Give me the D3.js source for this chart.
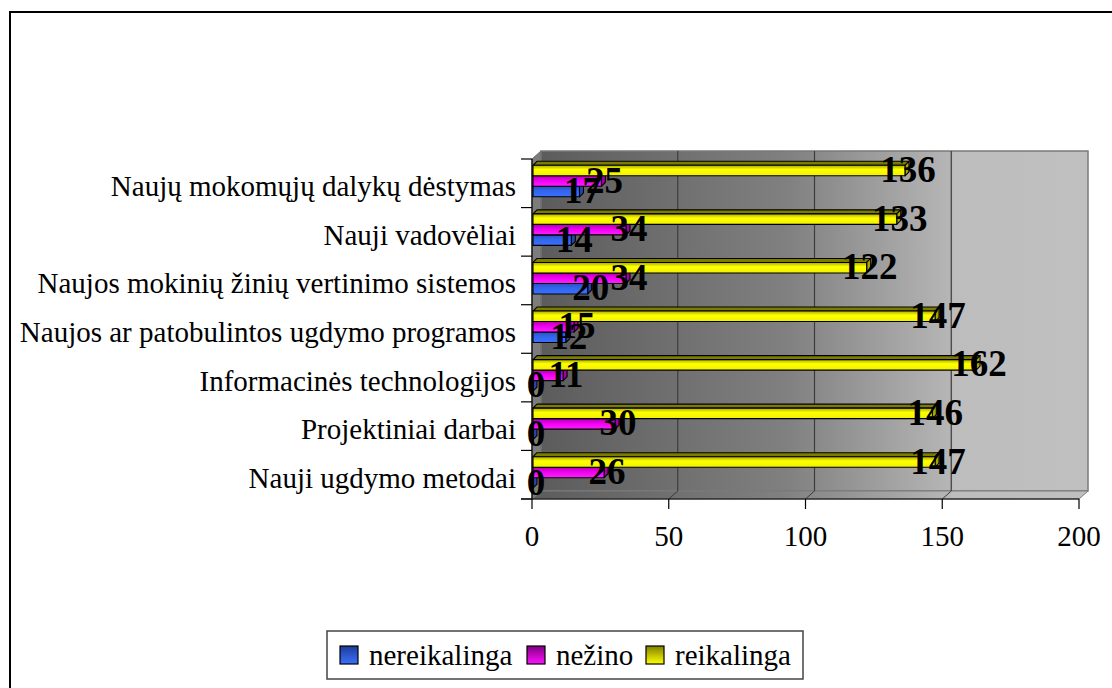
<!DOCTYPE html>
<html>
<head>
<meta charset="utf-8">
<style>
body { margin: 0; background: #fff; font-family: "Liberation Serif", "Times New Roman", serif; }
</style>
</head>
<body>
<script src="https://d3js.org/d3.v7.min.js"></script>
<script>
// categories from the bottom of the chart to the top
var categories = [
  "Nauji ugdymo metodai",
  "Projektiniai darbai",
  "Informacinės technologijos",
  "Naujos ar patobulintos ugdymo programos",
  "Naujos mokinių žinių vertinimo sistemos",
  "Nauji vadovėliai",
  "Naujų mokomųjų dalykų dėstymas"
];
var nereikalinga = [0, 0, 0, 12, 20, 14, 17];
var nezino = [26, 30, 11, 15, 34, 34, 25];
var reikalinga = [147, 146, 162, 147, 122, 133, 136];
var seriesNames = ["nereikalinga", "nežino", "reikalinga"];
var xTicks = [0, 50, 100, 150, 200];

var width = 1112, height = 688;
var svg = d3.select("body").append("svg")
    .attr("width", width)
    .attr("height", height);

var defs = svg.append("defs");

function vGrad(id, stops) {
  var g = defs.append("linearGradient").attr("id", id)
      .attr("x1", 0).attr("y1", 0).attr("x2", 0).attr("y2", 1);
  stops.forEach(function(s) {
    g.append("stop").attr("offset", s[0]).attr("stop-color", s[1]);
  });
}

var wallGrad = defs.append("linearGradient").attr("id", "wall")
    .attr("x1", 0).attr("y1", 0).attr("x2", 1).attr("y2", 0);
[["0%", "#5c5c5c"], ["45%", "#808080"], ["75%", "#b6b6b6"], ["75.5%", "#bdbdbd"], ["100%", "#c0c0c0"]]
  .forEach(function(s) { wallGrad.append("stop").attr("offset", s[0]).attr("stop-color", s[1]); });

var series = [
  { name: seriesNames[0], values: nereikalinga, front: "g0", top: "#1c3a8c", cap: "#2446a8" },
  { name: seriesNames[1], values: nezino, front: "g1", top: "#800080", cap: "#a000a0" },
  { name: seriesNames[2], values: reikalinga, front: "g2", top: "#7c7c00", cap: "#a6a600" }
];
vGrad("g0", [["0%", "#2a4fc0"], ["45%", "#3366ee"], ["100%", "#3a70ff"]]);
vGrad("g1", [["0%", "#b000b0"], ["45%", "#f000f0"], ["100%", "#ff20ff"]]);
vGrad("g2", [["0%", "#a8a800"], ["40%", "#ffff00"], ["100%", "#f0f000"]]);

// outer chart frame (extends past the right and bottom edge)
svg.append("rect")
    .attr("x", 10).attr("y", 12)
    .attr("width", 1200).attr("height", 800)
    .attr("fill", "#fff").attr("stroke", "#000").attr("stroke-width", 2);

var x = d3.scaleLinear().domain([0, 200]).range([532, 1079]);
var y = d3.scaleBand().domain(categories.slice().reverse()).range([159, 499]);
var dx = 9, dy = -8;      // wall depth
var top0 = y.range()[0], bot0 = y.range()[1];

// back wall
svg.append("rect")
    .attr("x", x(0) + dx).attr("y", top0 + dy)
    .attr("width", x(200) - x(0)).attr("height", bot0 - top0)
    .attr("fill", "url(#wall)").attr("stroke", "#7a7a7a").attr("stroke-width", 1.5);

// left wall
svg.append("path")
    .attr("d", "M" + x(0) + "," + top0 + "L" + (x(0) + dx) + "," + (top0 + dy) +
      "L" + (x(0) + dx) + "," + (bot0 + dy) + "L" + x(0) + "," + bot0 + "Z")
    .attr("fill", "#7c7c7c").attr("stroke", "#6a6a6a");

// floor
svg.append("path")
    .attr("d", "M" + x(0) + "," + bot0 + "L" + (x(0) + dx) + "," + (bot0 + dy) +
      "L" + (x(200) + dx) + "," + (bot0 + dy) + "L" + x(200) + "," + bot0 + "Z")
    .attr("fill", "url(#wall)").attr("stroke", "#7a7a7a");

// gridlines on the wall and floor
xTicks.slice(1, 4).forEach(function(t) {
  svg.append("line")
      .attr("x1", x(t) + dx).attr("x2", x(t) + dx)
      .attr("y1", top0 + dy).attr("y2", bot0 + dy)
      .attr("stroke", "#3c3c3c").attr("stroke-width", 1.2);
  svg.append("line")
      .attr("x1", x(t) + dx).attr("x2", x(t))
      .attr("y1", bot0 + dy).attr("y2", bot0)
      .attr("stroke", "#3c3c3c").attr("stroke-width", 1);
});

// bars
var bh = 10.5, d = 4;
var barOffsets = [27.3, 16.8, 6.3];   // front-face top, relative to band top
var bars = svg.append("g");
series.forEach(function(s, k) {
  s.values.forEach(function(v, i) {
    var x0 = x(0) + 1, x1 = x(v) + 1;
    var yt = y(categories[i]) + barOffsets[k], yb = yt + bh;
    var g = bars.append("g").attr("stroke", "#000").attr("stroke-width", 1.1).attr("stroke-linejoin", "round");
    g.append("path")
        .attr("d", "M" + x0 + "," + yt + "L" + (x0 + d) + "," + (yt - d) + "L" + (x1 + d) + "," + (yt - d) + "L" + x1 + "," + yt + "Z")
        .attr("fill", s.top);
    g.append("path")
        .attr("d", "M" + x1 + "," + yt + "L" + (x1 + d) + "," + (yt - d) + "L" + (x1 + d) + "," + (yb - d) + "L" + x1 + "," + yb + "Z")
        .attr("fill", s.cap);
    g.append("rect")
        .attr("x", x0).attr("y", yt)
        .attr("width", Math.max(0.5, x1 - x0)).attr("height", bh)
        .attr("fill", "url(#" + s.front + ")");
  });
});

// axes
var axisG = svg.append("g").attr("stroke", "#000").attr("stroke-width", 1.2);
axisG.append("line").attr("x1", x(0)).attr("x2", x(0)).attr("y1", top0).attr("y2", bot0);
axisG.append("line").attr("x1", x(0) - 11).attr("x2", x(200)).attr("y1", bot0).attr("y2", bot0);
var bandEdges = categories.map(function(c) { return y(c); }).concat([bot0]);
bandEdges.forEach(function(e) {
  axisG.append("line").attr("x1", x(0) - 11).attr("x2", x(0)).attr("y1", e).attr("y2", e);
});
xTicks.forEach(function(t) {
  axisG.append("line").attr("x1", x(t)).attr("x2", x(t)).attr("y1", bot0).attr("y2", bot0 + 10);
});

svg.append("g").selectAll("text")
    .data(xTicks).enter().append("text")
    .attr("x", function(t) { return x(t); })
    .attr("y", 546)
    .attr("text-anchor", "middle")
    .style("font-size", "29px")
    .text(function(t) { return t; });

svg.append("g").selectAll("text")
    .data(categories).enter().append("text")
    .attr("x", 516)
    .attr("y", function(c) { return y(c) + y.bandwidth() / 2 + 13; })
    .attr("text-anchor", "end")
    .style("font-size", "29px")
    .text(function(c) { return c; });

// value labels
var labels = svg.append("g")
    .style("font-size", "37px").style("font-weight", "bold")
    .attr("text-anchor", "middle");
series.forEach(function(s, k) {
  s.values.forEach(function(v, i) {
    labels.append("text")
        .attr("x", x(v) + 4)
        .attr("y", y(categories[i]) + barOffsets[k] + bh / 2 - 1)
        .attr("dy", "0.34em")
        .text(v);
  });
});

// legend
var legend = svg.append("g");
legend.append("rect")
    .attr("x", 327).attr("y", 631).attr("width", 476).attr("height", 48)
    .attr("fill", "#fff").attr("stroke", "#444").attr("stroke-width", 1.5);
var legX = [340, 527, 646];
vGrad("l0", [["0%", "#1e3c98"], ["100%", "#3a70ff"]]);
vGrad("l1", [["0%", "#800080"], ["100%", "#ff10ff"]]);
vGrad("l2", [["0%", "#808000"], ["100%", "#ffff00"]]);
series.forEach(function(s, k) {
  legend.append("rect")
      .attr("x", legX[k]).attr("y", 646).attr("width", 18).attr("height", 18)
      .attr("fill", "url(#l" + k + ")").attr("stroke", "#000").attr("stroke-width", 1.2);
  legend.append("text")
      .attr("x", legX[k] + 29).attr("y", 665)
      .style("font-size", "29px")
      .text(s.name);
});
</script>
</body>
</html>
